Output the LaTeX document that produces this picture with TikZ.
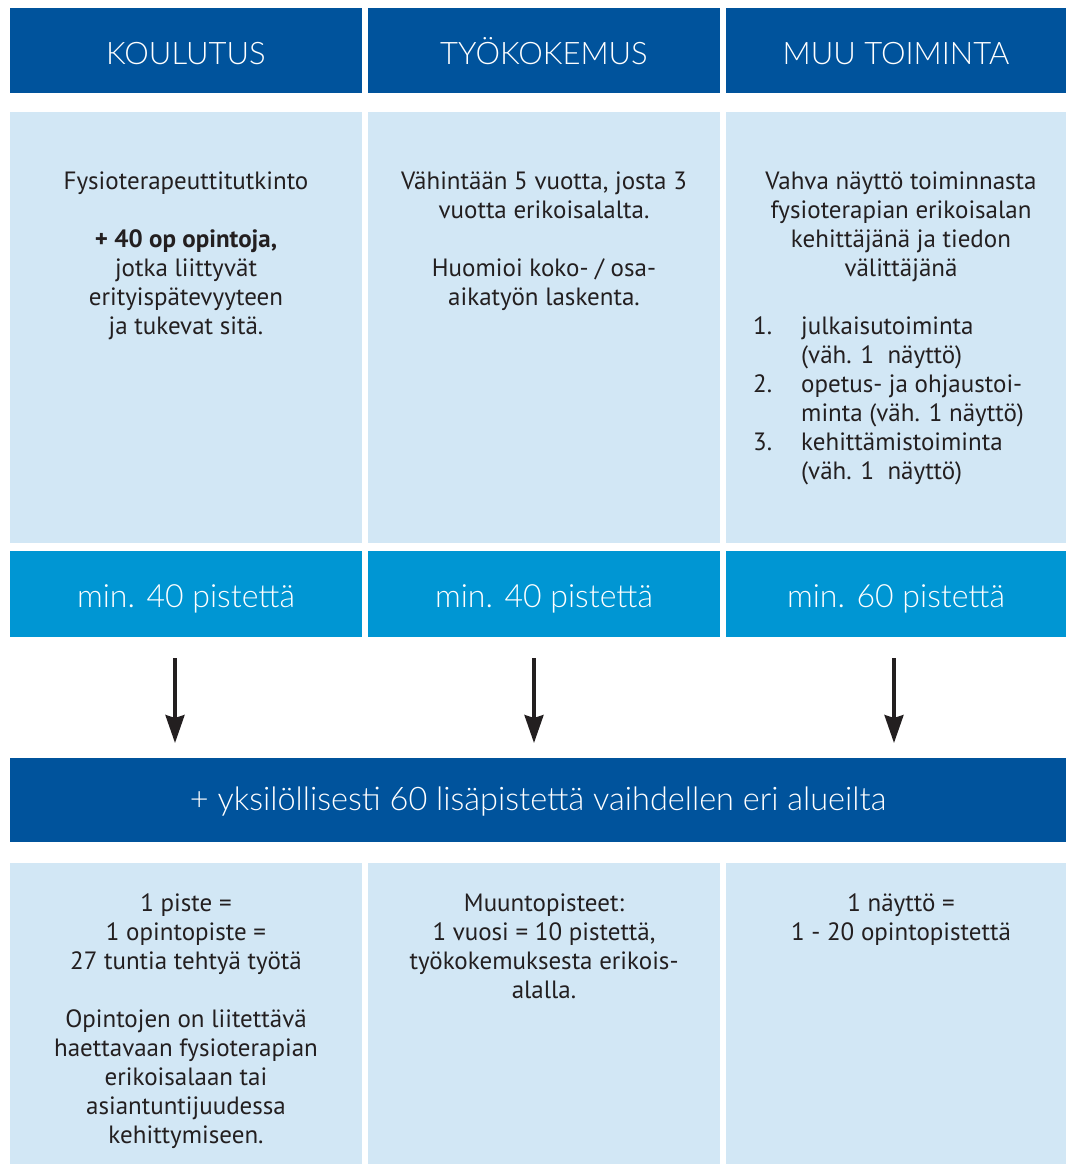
\documentclass[tikz,border=0pt]{standalone}
\usepackage{fontspec}
\setmainfont{PT Sans}
\newfontfamily\lightfont{Lato Light}
\usetikzlibrary{arrows.meta}
\definecolor{dblue}{RGB}{0,83,156}
\definecolor{lblue}{RGB}{210,231,245}
\definecolor{mblue}{RGB}{0,150,211}
\definecolor{txt}{RGB}{35,31,32}
\begin{document}
\begin{tikzpicture}[x=1pt,y=-1pt,
  cell/.style={inner sep=0pt,outer sep=0pt,minimum width=#1},
  hdr/.style={cell=#1,fill=dblue,minimum height=85pt,text=white,
    font=\lightfont\fontsize{31}{36}\selectfont,text height=27pt,text depth=0pt},
  wbar/.style={cell=#1,fill=dblue,minimum height=84pt,text=white,
    font=\lightfont\fontsize{32.5}{36}\selectfont,text height=21pt,text depth=0pt},
  pts/.style={cell=#1,fill=mblue,minimum height=86pt,text=white,
    font=\lightfont\fontsize{32}{36}\selectfont,text height=27pt,text depth=0pt},
  light/.style={cell=#1,fill=lblue},
  body/.style={inner sep=0pt,text=txt,align=center,anchor=base,
    font=\fontsize{25}{29}\selectfont},
  lst/.style={inner sep=0pt,text=txt,align=left,anchor=base west,
    font=\fontsize{25}{29}\selectfont},
  arr/.style={line width=3.3pt,draw=txt,
    -{Stealth[length=28pt,width=19pt,inset=3pt]},shorten <=21pt,shorten >=15pt}]
\useasboundingbox (0,0) rectangle (1066,1164);
% header row
\node[hdr=352pt] (hA) at (186,50.5) {KOULUTUS};
\node[hdr=352pt] (hB) at (544,50.5) {TYÖKOKEMUS};
\node[hdr=340pt] (hC) at (896,50.5) {MUU TOIMINTA};
% content row
\node[light=352pt,minimum height=431pt] (cA) at (186,327.5) {};
\node[light=352pt,minimum height=431pt] (cB) at (544,327.5) {};
\node[light=340pt,minimum height=431pt] (cC) at (896,327.5) {};
% points row
\node[pts=352pt] (pA) at (186,594) {min. 40 pistettä};
\node[pts=352pt] (pB) at (544,594) {min. 40 pistettä};
\node[pts=340pt] (pC) at (896,594) {min. 60 pistettä};
% wide bar
\node[wbar=1056pt] (wide) at (538,800) {+ yksilöllisesti 60 lisäpistettä vaihdellen eri alueilta};
% bottom row
\node[light=352pt,minimum height=301pt] (bA) at (186,1013.5) {};
\node[light=352pt,minimum height=301pt] (bB) at (544,1013.5) {};
\node[light=340pt,minimum height=301pt] (bC) at (896,1013.5) {};
% arrows
\draw[arr] ([xshift=-11pt]pA.south) -- ([xshift=-11pt]pA.south |- wide.north);
\draw[arr] ([xshift=-10pt]pB.south) -- ([xshift=-10pt]pB.south |- wide.north);
\draw[arr] ([xshift=-2pt]pC.south) -- ([xshift=-2pt]pC.south |- wide.north);
% content texts (anchored at the baseline of the last line)
\node[body] (tA) at (186,334) {Fysioterapeuttitutkinto\\[29pt]
  \textbf{+ 40 op opintoja,}\\ jotka liittyvät\\ erityispätevyyteen\\ ja tukevat sitä.};
\node[body] (tB) at (544,305) {Vähintään 5 vuotta, josta 3\\ vuotta erikoisalalta.\\[29pt]
  Huomioi koko- / osa-\\ aikatyön laskenta.};
\node[body] (tC) at (901,276) {Vahva näyttö toiminnasta\\ fysioterapian erikoisalan\\
  kehittäjänä ja tiedon\\ välittäjänä};
\node[lst] (lC) at (753,479) {\makebox[48pt][l]{1.}julkaisutoiminta\\
  \hspace*{48pt}(väh. 1\ \ näyttö)\\
  \makebox[48pt][l]{2.}opetus- ja ohjaustoi-\\
  \hspace*{48pt}minta (väh. 1 näyttö)\\
  \makebox[48pt][l]{3.}kehittämistoiminta\\
  \hspace*{48pt}(väh. 1\ \ näyttö)};
% bottom texts
\node[body] (sA) at (186,1143) {1 piste =\\ 1 opintopiste =\\ 27 tuntia tehtyä työtä\\[29pt]
  Opintojen on liitettävä\\ haettavaan fysioterapian\\ erikoisalaan tai\\
  asiantuntijuudessa\\ kehittymiseen.};
\node[body] (sB) at (544,998) {Muuntopisteet:\\ 1 vuosi = 10 pistettä,\\
  työkokemuksesta erikois-\\ alalla.};
\node[body] (sC) at (901,940) {1 näyttö =\\ 1 - 20 opintopistettä};
\end{tikzpicture}
\end{document}
